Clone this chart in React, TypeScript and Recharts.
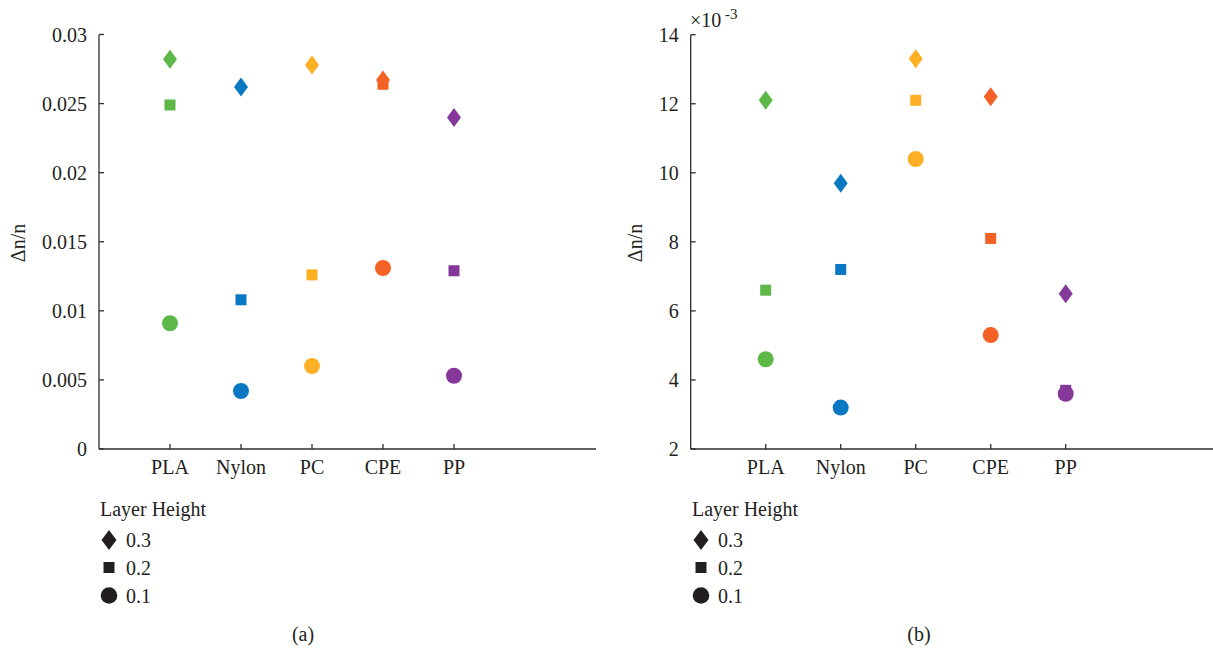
import React from "react"
import { ScatterChart, Scatter, XAxis, YAxis } from "recharts"

// categories and colours
const materials = ["PLA", "Nylon", "PC", "CPE", "PP"]
const materialColors = ["#5DB847", "#0B78C4", "#FDB023", "#F36124", "#85389A"]
const xTicks = [1, 2, 3, 4, 5]

// panel (a): Δn/n
const leftH03 = [0.0282, 0.0262, 0.0278, 0.0267, 0.024]
const leftH02 = [0.0249, 0.0108, 0.0126, 0.0264, 0.0129]
const leftH01 = [0.0091, 0.0042, 0.006, 0.0131, 0.0053]
const leftTicks = [0, 0.005, 0.01, 0.015, 0.02, 0.025, 0.03]

// panel (b): Δn/n in units of 10^-3
const rightH03 = [12.1, 9.7, 13.3, 12.2, 6.5]
const rightH02 = [6.6, 7.2, 12.1, 8.1, 3.7]
const rightH01 = [4.6, 3.2, 10.4, 5.3, 3.6]
const rightTicks = [2, 4, 6, 8, 10, 12, 14]

const legendLabels = ["0.3", "0.2", "0.1"]

const FONT = "'Liberation Serif', 'Times New Roman', serif"
const TEXT = "#231f20"
const AXIS = "#2e2e2e"

const toPoints = (values: number[]) =>
  values.map((v, i) => ({ x: i + 1, y: v, name: materials[i], color: materialColors[i] }))

const Diamond = (p: any) => (
  <polygon
    points={`${p.cx},${p.cy - 9.5} ${p.cx + 7},${p.cy} ${p.cx},${p.cy + 9.5} ${p.cx - 7},${p.cy}`}
    fill={p.payload.color}
  />
)
const Square = (p: any) => <rect x={p.cx - 5.5} y={p.cy - 5.5} width={11} height={11} fill={p.payload.color} />
const Dot = (p: any) => <circle cx={p.cx} cy={p.cy} r={8} fill={p.payload.color} />

const tickStyle = { fontFamily: FONT, fontSize: 20, fill: TEXT }

function Panel(props: {
  h3: number[]
  h2: number[]
  h1: number[]
  domain: [number, number]
  ticks: number[]
  width: number
  margin: { top: number; right: number; bottom: number; left: number }
}) {
  const { h3, h2, h1, domain, ticks, width, margin } = props
  return (
    <ScatterChart width={width} height={500} margin={margin}>
      <XAxis
        xAxisId="b"
        type="number"
        dataKey="x"
        domain={[0, 7]}
        ticks={xTicks}
        height={40}
        tickSize={-5}
        tickMargin={16}
        tickFormatter={(v) => materials[v - 1]}
        stroke={AXIS}
        strokeWidth={1.3}
        tick={tickStyle}
        allowDataOverflow
      />
      <XAxis
        xAxisId="t"
        orientation="top"
        type="number"
        dataKey="x"
        domain={[0, 7]}
        ticks={xTicks}
        height={0}
        tickSize={-5}
        tick={false}
        stroke={AXIS}
        strokeWidth={1.3}
        allowDataOverflow
      />
      <YAxis
        yAxisId="l"
        type="number"
        dataKey="y"
        domain={domain}
        ticks={ticks}
        width={60}
        tickSize={-5}
        tickMargin={17}
        tickFormatter={(v) => String(v)}
        stroke={AXIS}
        strokeWidth={1.3}
        tick={tickStyle}
        allowDataOverflow
      />
      <YAxis
        yAxisId="r"
        orientation="right"
        type="number"
        dataKey="y"
        domain={domain}
        ticks={ticks}
        width={0}
        tickSize={-5}
        tick={false}
        stroke={AXIS}
        strokeWidth={1.3}
        allowDataOverflow
      />
      <Scatter xAxisId="b" yAxisId="l" data={toPoints(h3)} shape={Diamond} isAnimationActive={false} />
      <Scatter xAxisId="b" yAxisId="l" data={toPoints(h2)} shape={Square} isAnimationActive={false} />
      <Scatter xAxisId="b" yAxisId="l" data={toPoints(h1)} shape={Dot} isAnimationActive={false} />
    </ScatterChart>
  )
}

function LegendBlock({ x, caption, cx }: { x: number; caption: string; cx: number }) {
  const ix = x + 9
  const tx = x + 26
  return (
    <g fontFamily={FONT} fontSize={20} fill={TEXT}>
      <text x={x} y={516}>Layer Height</text>
      <polygon points={`${ix},${530} ${ix + 7.5},${540} ${ix},${550} ${ix - 7.5},${540}`} fill={TEXT} />
      <text x={tx} y={546.5}>{legendLabels[0]}</text>
      <rect x={ix - 5.5} y={562} width={11} height={11} fill={TEXT} />
      <text x={tx} y={574.5}>{legendLabels[1]}</text>
      <circle cx={ix} cy={595.5} r={8.3} fill={TEXT} />
      <text x={tx} y={602.5}>{legendLabels[2]}</text>
      <text x={cx} y={641} textAnchor="middle">{caption}</text>
    </g>
  )
}

export default function App() {
  return (
    <div
      style={{
        position: "fixed",
        left: 0,
        top: 0,
        width: 1213,
        height: 648,
        overflow: "hidden",
        background: "#fff",
      }}
    >
      <div style={{ position: "absolute", left: 0, top: 0 }}>
        <Panel
          h3={leftH03}
          h2={leftH02}
          h1={leftH01}
          domain={[0, 0.03]}
          ticks={leftTicks}
          width={620}
          margin={{ top: 34.5, right: 24, bottom: 11, left: 39 }}
        />
      </div>
      <div style={{ position: "absolute", left: 600, top: 0 }}>
        <Panel
          h3={rightH03}
          h2={rightH02}
          h1={rightH01}
          domain={[2, 14]}
          ticks={rightTicks}
          width={640}
          margin={{ top: 34.7, right: 24.3, bottom: 11, left: 30.7 }}
        />
      </div>
      <svg
        width={1213}
        height={648}
        style={{ position: "absolute", left: 0, top: 0, pointerEvents: "none" }}
      >
        <g fontFamily={FONT} fontSize={20} fill={TEXT}>
          <text transform="translate(25,243) rotate(-90)" textAnchor="middle">Δn/n</text>
          <text transform="translate(642,243) rotate(-90)" textAnchor="middle">Δn/n</text>
          <text x={690} y={27}>×10</text>
          <text x={725} y={19} fontSize={15}>-3</text>
        </g>
        <LegendBlock x={100} caption="(a)" cx={303} />
        <LegendBlock x={692} caption="(b)" cx={919} />
      </svg>
    </div>
  )
}
